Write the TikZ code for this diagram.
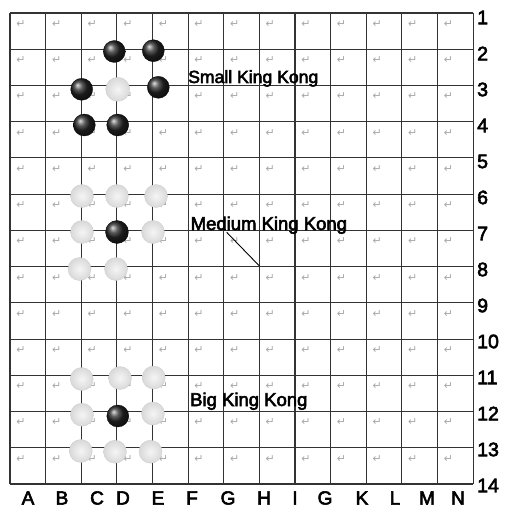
\documentclass[tikz,border=0pt]{standalone}
\usepackage{fontspec}
\setmainfont{Liberation Sans}
\newfontfamily\lblfont[FakeBold=3]{Liberation Sans}
\newfontfamily\markfont{DejaVu Sans}
\definecolor{gridc}{HTML}{333333}
\definecolor{markc}{HTML}{A8A8A8}
\tikzset{
  gridline/.style={draw=gridc, line width=1.1pt},
  parmark/.style={inner sep=0pt, text=markc, font=\markfont\fontsize{11}{11}\selectfont},
  collabel/.style={inner sep=0pt, font=\lblfont\fontsize{19}{19}\selectfont},
  rowlabel/.style={inner sep=0pt, anchor=west, font=\lblfont\fontsize{19.5}{19.5}\selectfont},
  kklabel/.style={inner sep=0pt, anchor=base west, font=\lblfont\fontsize{18.5}{18.5}\selectfont},
  blackstone/.style={ball color=black!85, draw=black, line width=0.3pt},
  whitestone/.style={shading=radial, inner color=gray!8, outer color=gray!30, draw=gray!40, line width=0.3pt}
}
\begin{document}
\begin{tikzpicture}[x=1pt,y=-1pt]
\useasboundingbox (0,0) rectangle (507,508);
\fill[white] (0,0) rectangle (507,508);
% paragraph marks
\foreach \i in {0,...,12}{
  \foreach \j in {0,...,12}{
    \node[parmark] (pm-\i-\j) at (10+35.62*\i+11, 13+36.23*\j+11) {↵};
  }
}
% grid
\foreach \i in {0,...,13}{
  \draw[gridline] (10+35.62*\i, 13) -- (10+35.62*\i, 484);
  \draw[gridline] (10, 13+36.23*\i) -- (473, 13+36.23*\i);
}
% row labels
\foreach \r [count=\k from 0] in {1,...,14}{
  \node[rowlabel] (row-\r) at (477, 17.5+36*\k) {\r};
}
% column labels
\foreach \c/\x in {A/28,B/62,C/97,D/123,E/158,F/192,G/228,H/264,I/295,G/325,K/362,L/395,M/427,N/458}{
  \node[collabel] (col-\x) at (\x, 498) {\c};
}
% Small King Kong
\foreach \x/\y [count=\n] in {114.3/51.5,153.3/50.7,81.7/89.3,158.3/87.3,84.3/125,117.7/125}{
  \shade[blackstone] (\x,\y) circle (11);
}
\shade[whitestone] (117.7,89.3) circle (12);
% Medium King Kong
\foreach \x/\y in {82/196,117/196,156/196,82/232,153/232,79.5/269,116/269}{
  \shade[whitestone] (\x,\y) circle (11.5);
}
\shade[blackstone] (117,232) circle (11.5);
% Big King Kong
\foreach \x/\y in {81.7/379,120/378,153.7/377.5,82/414.7,153/413.5,80.8/451,115/451.7,150.5/451.7}{
  \shade[whitestone] (\x,\y) circle (11.5);
}
\shade[blackstone] (117.8,416) circle (11);
% labels
\node[kklabel, font=\lblfont\fontsize{17.6}{17.6}\selectfont] (small) at (188,83) {Small King Kong};
\node[kklabel] (medium) at (190.5,230) {Medium King Kong};
\node[kklabel] (big) at (190,406) {Big King Kong};
% stray line
\coordinate (ls) at (226.7,232.3);
\coordinate (le) at (259.4,266);
\draw[black, line width=0.9pt] (ls) -- (le);
\end{tikzpicture}
\end{document}
